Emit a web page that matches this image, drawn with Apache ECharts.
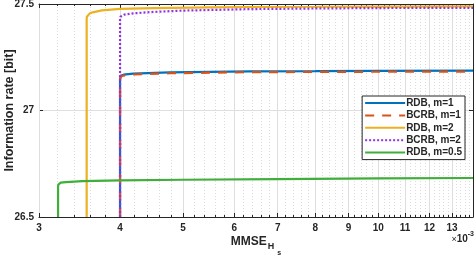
<!DOCTYPE html>
<html><head><meta charset="utf-8">
<script src="https://cdn.jsdelivr.net/npm/echarts@6/dist/echarts.min.js"></script>
<style>html,body{margin:0;padding:0;background:#fff}#c{width:476px;height:257px}</style>
</head><body><div id="c"></div>
<script>
var seriesNames = ['RDB, m=1', 'BCRB, m=1', 'RDB, m=2', 'BCRB, m=2', 'RDB, m=0.5'];
var xRDB1 = [4.0, 4.0, 4.004, 4.015, 4.05, 4.19, 4.77, 6.35, 8, 10, 14];
var yRDB1 = [26.5, 27.15, 27.158, 27.164, 27.168, 27.173, 27.179, 27.184, 27.185, 27.186, 27.187];
var xBCRB1 = [4.0, 4.0, 4.004, 4.015, 4.05, 4.19, 4.77, 6.35, 8, 10, 14];
var yBCRB1 = [26.5, 27.148, 27.155, 27.16, 27.164, 27.169, 27.175, 27.18, 27.181, 27.182, 27.183];
var xRDB2 = [3.553, 3.553, 3.556, 3.565, 3.59, 3.63, 3.75, 4.0, 4.5, 5.5, 6.35, 8, 10, 14];
var yRDB2 = [26.5, 27.43, 27.44, 27.448, 27.455, 27.461, 27.47, 27.477, 27.481, 27.484, 27.486, 27.487, 27.488, 27.489];
var xBCRB2 = [4.0, 4.0, 4.005, 4.02, 4.06, 4.19, 4.45, 5, 6.35, 8, 10, 14];
var yBCRB2 = [26.5, 27.43, 27.44, 27.446, 27.45, 27.456, 27.462, 27.469, 27.476, 27.479, 27.481, 27.482];
var xRDB05 = [3.21, 3.21, 3.213, 3.22, 3.24, 3.3, 3.5, 4, 5, 7, 10, 14];
var yRDB05 = [26.5, 26.641, 26.652, 26.658, 26.661, 26.664, 26.668, 26.672, 26.675, 26.678, 26.681, 26.683];
var xMajor = [3, 4, 5, 6, 7, 8, 9, 10, 11, 12, 13];
var xMinor = [];
for (var k = 3; k < 14; k++) { for (var j = 1; j <= 4; j++) { xMinor.push(+(k + j * 0.2).toFixed(1)); } }

function pairs(xs, ys) { return xs.map(function (x, i) { return [x, ys[i]]; }); }

var colors = ['#0072BD', '#D95319', '#EDB120', '#9432E6', '#3FAE3A'];
var lineTypes = ['solid', [9, 8], 'solid', [2, 2], 'solid'];
var datas = [pairs(xRDB1, yRDB1), pairs(xBCRB1, yBCRB1), pairs(xRDB2, yRDB2), pairs(xBCRB2, yBCRB2), pairs(xRDB05, yRDB05)];
var drawOrder = [4, 2, 0, 1, 3];

var axisCol = '#262626';
var font = '"Liberation Sans", Arial, sans-serif';
var baseX = {type: 'log', logBase: 10, min: 3, max: 14, gridIndex: 0};

var chart = echarts.init(document.getElementById('c'), null, {renderer: 'canvas'});
chart.setOption({
  animation: false,
  backgroundColor: '#fff',
  grid: {left: 39, right: 3, top: 4, bottom: 40, containLabel: false, outerBoundsMode: 'none'},
  xAxis: [
    Object.assign({}, baseX, {
      position: 'bottom', z: 3,
      axisLine: {show: true, onZero: false, lineStyle: {color: axisCol, width: 1}},
      axisTick: {show: true, inside: true, length: 4, customValues: xMajor, lineStyle: {color: axisCol}},
      axisLabel: {show: true, customValues: xMajor, color: '#262626', fontFamily: font, fontWeight: 'bold', fontSize: 10, margin: 6,
        formatter: function (v) { return String(Math.round(v)); }},
      splitLine: {show: true, lineStyle: {color: '#dedede', width: 1}},
      name: '{m|MMSE}{h|H}{s|s}', nameLocation: 'middle', nameGap: 19, nameMoveOverlap: false,
      nameTextStyle: {verticalAlign: 'top', rich: {
        m: {fontFamily: font, fontWeight: 'bold', fontSize: 12, color: '#262626', lineHeight: 14, verticalAlign: 'top'},
        h: {fontFamily: font, fontWeight: 'bold', fontSize: 9, color: '#262626', lineHeight: 10, verticalAlign: 'top', padding: [6, 0, 0, 1]},
        s: {fontFamily: font, fontWeight: 'bold', fontSize: 7, color: '#262626', lineHeight: 8, verticalAlign: 'top', padding: [14, 0, 0, 3]}
      }}
    }),
    Object.assign({}, baseX, {
      position: 'bottom', z: 2,
      axisLine: {show: false, onZero: false},
      axisTick: {show: true, inside: true, length: 2, customValues: xMinor, lineStyle: {color: axisCol}},
      axisLabel: {show: false, customValues: xMinor},
      splitLine: {show: true, lineStyle: {color: '#dcdcdc', width: 1, type: [1, 2]}}
    }),
    Object.assign({}, baseX, {
      position: 'top', z: 3,
      axisLine: {show: true, onZero: false, lineStyle: {color: axisCol, width: 1}},
      axisTick: {show: true, inside: true, length: 4, customValues: xMajor, lineStyle: {color: axisCol}},
      axisLabel: {show: false, customValues: xMajor},
      splitLine: {show: false}
    }),
    Object.assign({}, baseX, {
      position: 'top', z: 2,
      axisLine: {show: false, onZero: false},
      axisTick: {show: true, inside: true, length: 2, customValues: xMinor, lineStyle: {color: axisCol}},
      axisLabel: {show: false, customValues: xMinor},
      splitLine: {show: false}
    })
  ],
  yAxis: [
    {type: 'value', min: 26.5, max: 27.5, interval: 0.5, position: 'left',
      axisLine: {show: true, onZero: false, lineStyle: {color: axisCol}},
      axisTick: {show: true, inside: true, length: 4, lineStyle: {color: axisCol}},
      axisLabel: {color: '#262626', fontFamily: font, fontWeight: 'bold', fontSize: 10, margin: 5,
        formatter: function (v) { return String(+v.toFixed(1)); }},
      splitLine: {show: true, lineStyle: {color: '#dedede'}},
      name: 'Information rate [bit]', nameLocation: 'middle', nameGap: 23, nameRotate: 90, nameMoveOverlap: false,
      nameTextStyle: {fontFamily: font, fontWeight: 'bold', fontSize: 12.5, color: '#262626'}
    },
    {type: 'value', min: 26.5, max: 27.5, interval: 0.5, position: 'right',
      axisLine: {show: true, onZero: false, lineStyle: {color: axisCol}},
      axisTick: {show: true, inside: true, length: 4, lineStyle: {color: axisCol}},
      axisLabel: {show: false}, splitLine: {show: false}
    }
  ],
  legend: {
    orient: 'vertical', right: 11, top: 96, itemWidth: 40, itemHeight: 10, itemGap: 2.4,
    padding: [2, 3, 2, 2],
    backgroundColor: '#fff', borderColor: '#262626', borderWidth: 1, borderRadius: 0,
    itemStyle: {opacity: 0},
    textStyle: {fontFamily: font, fontWeight: 'bold', fontSize: 10, color: '#262626', padding: [0, 0, 0, -4]},
    data: seriesNames.map(function (n) { return {name: n}; })
  },
  graphic: [{
    type: 'text', right: 2, top: 231, z: 10,
    style: {text: '{a|×}{b|10}{c|-3}', rich: {
      a: {fontFamily: font, fontSize: 9, fill: '#262626', padding: [4, 0, 0, 0]},
      b: {fontFamily: font, fontWeight: 'bold', fontSize: 10, fill: '#262626', padding: [4, 0, 0, 0]},
      c: {fontFamily: font, fontWeight: 'bold', fontSize: 7, fill: '#262626', padding: [0, 0, 6, 0]}
    }}
  }],
  series: drawOrder.map(function (i) {
    return {
      name: seriesNames[i], type: 'line', xAxisIndex: 0, yAxisIndex: 0,
      data: datas[i], showSymbol: false, symbol: 'none', smooth: false, clip: true,
      lineStyle: {color: colors[i], width: 2.2, type: lineTypes[i], cap: 'butt'},
      itemStyle: {color: colors[i]}, z: 5 + i
    };
  })
});
</script></body></html>
